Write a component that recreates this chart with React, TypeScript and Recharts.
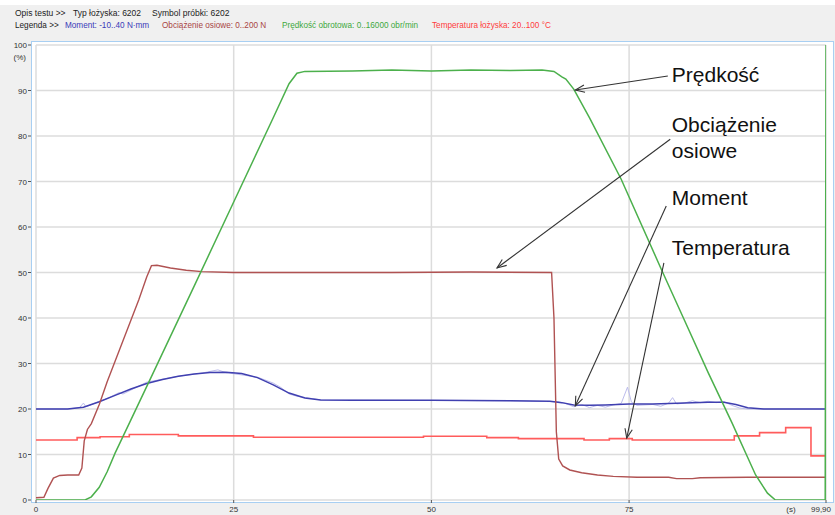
import {
  LineChart,
  Line,
  XAxis,
  YAxis,
  CartesianGrid,
  ReferenceLine,
  ReferenceDot,
} from "recharts";

// czas (s), wartość (%)
const predkosc: [number, number][] = [
  [0, 0], [6.2, 0], [7, 0.7], [8, 2.8], [9, 6.2], [10, 10.3], [12, 17.6], [15, 28.6],
  [20, 47], [25, 65.5], [30, 84], [32, 91.5], [33, 93.8], [34, 94.2], [40, 94.3],
  [45, 94.5], [50, 94.3], [55, 94.5], [60, 94.4], [64, 94.5], [65.5, 94.2], [66.5, 93],
  [67, 92.5], [68, 90.3], [70, 84], [74, 70.5], [79, 51], [82, 39.5], [85, 28], [88, 17],
  [91, 5.5], [92.5, 1.5], [93.5, 0], [99.8, 0], [99.9, 100],
];

const obciazenie: [number, number][] = [
  [0, 0.5], [1, 0.6], [1.5, 2.5], [2.2, 4.8], [3, 5.4], [4, 5.5], [5.4, 5.5], [5.8, 7],
  [6.1, 13], [6.5, 15.5], [7, 16.8], [8, 21], [9, 26], [10, 30.5], [11, 35], [12, 39.5],
  [13, 44], [14, 49], [14.6, 51.5], [15.3, 51.6], [17, 51], [19, 50.5], [21, 50.2],
  [25, 50], [35, 50], [45, 50], [55, 50.1], [65.2, 50], [65.5, 40], [65.8, 15], [66.1, 9],
  [66.6, 7.5], [67.5, 6.6], [69, 6], [71, 5.5], [73, 5.2], [76, 5], [80, 5], [81, 4.7],
  [83, 4.7], [84, 4.9], [90, 5], [99.9, 5],
];

const moment: [number, number][] = [
  [0, 20], [4, 20], [6, 20.4], [8, 21.6], [10, 23], [12, 24.4], [14, 25.6], [16, 26.5],
  [18, 27.2], [20, 27.7], [22, 28], [24, 28.1], [26, 27.8], [28, 26.9], [30, 25.3],
  [32, 23.5], [34, 22.4], [36, 22], [40, 21.9], [50, 21.9], [60, 21.8], [65, 21.7],
  [66.5, 21.4], [68, 20.9], [70, 20.8], [72, 20.9], [75, 21.1], [78, 21.1], [82, 21.3],
  [85, 21.5], [87, 21.5], [88.5, 21], [90, 20.3], [92, 20], [99.9, 20],
];

const momentSurowy: [number, number][] = [
  [0, 20], [4, 20], [5.5, 20.3], [6, 21.3], [6.3, 20.5], [9, 22.3], [10.5, 23.6],
  [11, 23.3], [14, 25.9], [18, 27.2], [21, 27.9], [23, 28.6], [24, 28], [28, 27],
  [30, 25.7], [31, 24.7], [32, 23.3], [33, 22.8], [36, 22], [60, 21.8], [66, 21.6],
  [67, 21.2], [68, 20.5], [69, 21], [70, 20.3], [71, 20.8], [72, 20.4], [73, 20.9],
  [74, 21.2], [74.8, 24.8], [75.3, 21.5], [76, 20.8], [78, 21], [79, 20.6], [80, 21.3],
  [80.5, 22.5], [81, 21.1], [82, 21.3], [83, 21.8], [84, 21.4], [85, 21.7], [86, 21.4],
  [87, 21.6], [88, 20.8], [89, 20.2], [90, 20], [99.9, 20],
];

const temperatura: [number, number][] = [
  [0, 13.2], [5.2, 13.7], [8.1, 13.9], [11.8, 14.4], [18, 14.1], [27.5, 13.8], [49, 14],
  [57, 13.7], [61, 13.5], [69.3, 13.2], [72.5, 13.5], [75.4, 13.2], [88.3, 14.1],
  [91.5, 14.8], [94.8, 15.9], [98, 9.7], [99.9, 9.7],
];

const yTicks = [0, 10, 20, 30, 40, 50, 60, 70, 80, 90, 100];
const xTicks = [0, 25, 50, 75, 99.9];

const legenda = [
  { tekst: "Moment: -10..40 N·mm", kolor: "#3a3ab8", x: 65 },
  { tekst: "Obciążenie osiowe: 0..200 N", kolor: "#a84444", x: 162 },
  { tekst: "Prędkość obrotowa: 0..16000 obr/min", kolor: "#3da83d", x: 282 },
  { tekst: "Temperatura łożyska: 20..100 °C", kolor: "#ff3c3c", x: 432 },
];

const opisy = [
  { tekst: "Prędkość", t: 80.4, v: 93.6 },
  { tekst: "Obciążenie", t: 80.4, v: 82.6 },
  { tekst: "osiowe", t: 80.4, v: 76.9 },
  { tekst: "Moment", t: 80.4, v: 66.4 },
  { tekst: "Temperatura", t: 80.4, v: 55.4 },
];

const strzalki = [
  [{ x: 79.9, y: 93.2 }, { x: 68.2, y: 90.1 }],
  [{ x: 80.2, y: 79.3 }, { x: 58.3, y: 51.0 }],
  [{ x: 79.7, y: 64.6 }, { x: 68.2, y: 20.7 }],
  [{ x: 79.4, y: 52.1 }, { x: 74.7, y: 13.6 }],
];

const toRows = (pts: [number, number][]) => pts.map(([t, v]) => ({ t, v }));

function Arrow(p: any) {
  const { x1, y1, x2, y2 } = p;
  const ang = Math.atan2(y2 - y1, x2 - x1);
  const L = 10;
  const a = 0.38;
  const h1 = `${x2 - L * Math.cos(ang - a)},${y2 - L * Math.sin(ang - a)}`;
  const h2 = `${x2 - L * Math.cos(ang + a)},${y2 - L * Math.sin(ang + a)}`;
  return (
    <g>
      <line x1={x1} y1={y1} x2={x2} y2={y2} stroke="#333" strokeWidth={1.1} />
      <polyline points={`${h1} ${x2},${y2} ${h2}`} fill="none" stroke="#333" strokeWidth={1.1} />
    </g>
  );
}

function YTick({ x, y, payload }: any) {
  return (
    <g>
      <text x={x} y={y} dy={3} textAnchor="end" fontSize={8} fill="#333">
        {payload.value}
      </text>
      <line x1={x + 1} x2={x + 4} y1={y} y2={y} stroke="#555" />
      {payload.value === 100 && (
        <text x={x - 1} y={y + 15} textAnchor="end" fontSize={8} fill="#333">
          (%)
        </text>
      )}
    </g>
  );
}

function XTick({ x, y, payload }: any) {
  const last = payload.value > 99;
  return (
    <g>
      <text x={x} y={y} dy={7} textAnchor="middle" fontSize={8} fill="#333">
        {last ? "99,90" : payload.value}
      </text>
      {last && (
        <text x={x - 30} y={y} dy={7} textAnchor="middle" fontSize={8} fill="#333">
          (s)
        </text>
      )}
    </g>
  );
}

export default function App() {
  return (
    <div
      style={{
        position: "absolute",
        left: 0,
        top: 0,
        width: 835,
        height: 515,
        background: "#f0f0f0",
        fontFamily: "'Liberation Sans', Arial, sans-serif",
        overflow: "hidden",
      }}
    >
      <div style={{ position: "absolute", left: 0, top: 0, width: 835, height: 5, background: "#fff" }} />
      <div style={{ position: "absolute", top: 8, left: 15, fontSize: 8.5, lineHeight: "11px", color: "#222", whiteSpace: "nowrap" }}>
        Opis testu &gt;&gt;
      </div>
      <div style={{ position: "absolute", top: 8, left: 73, fontSize: 8.5, lineHeight: "11px", color: "#222", whiteSpace: "nowrap" }}>
        Typ łożyska: 6202
      </div>
      <div style={{ position: "absolute", top: 8, left: 152, fontSize: 8.5, lineHeight: "11px", color: "#222", whiteSpace: "nowrap" }}>
        Symbol próbki: 6202
      </div>
      <div style={{ position: "absolute", top: 20, left: 15, fontSize: 8.2, lineHeight: "11px", color: "#222", whiteSpace: "nowrap" }}>
        Legenda &gt;&gt;
      </div>
      {legenda.map((l) => (
        <div
          key={l.tekst}
          style={{ position: "absolute", top: 20, left: l.x, fontSize: 8.2, lineHeight: "11px", color: l.kolor, whiteSpace: "nowrap" }}
        >
          {l.tekst}
        </div>
      ))}
      <div
        style={{
          position: "absolute",
          left: 31,
          top: 41,
          width: 801,
          height: 460,
          background: "#fff",
          border: "1px solid #a8cff2",
        }}
      />
      <div style={{ position: "absolute", left: 0, top: 0 }}>
        <LineChart width={835} height={515} margin={{ top: 45, right: 9, bottom: 0, left: 0 }}>
          <CartesianGrid stroke="#dcdcdc" strokeWidth={1.5} />
          <XAxis
            type="number"
            dataKey="t"
            domain={[0, 99.9]}
            ticks={xTicks}
            height={15}
            axisLine={false}
            tickSize={3}
            tickMargin={2}
            tickLine={{ stroke: "#555" }}
            tick={<XTick />}
            allowDataOverflow
          />
          <YAxis
            type="number"
            dataKey="v"
            domain={[0, 100]}
            ticks={yTicks}
            width={36}
            axisLine={false}
            tickLine={false}
            tickSize={0}
            tickMargin={9}
            tick={<YTick />}
            allowDataOverflow
          />
          <Line data={toRows(momentSurowy)} dataKey="v" type="linear" stroke="#bcbcec" strokeWidth={1} dot={false} isAnimationActive={false} />
          <Line data={toRows(moment)} dataKey="v" type="linear" stroke="#4040b0" strokeWidth={1.5} dot={false} isAnimationActive={false} />
          <Line data={toRows(temperatura)} dataKey="v" type="stepAfter" stroke="#ff5c5c" strokeWidth={1.6} dot={false} isAnimationActive={false} />
          <Line data={toRows(obciazenie)} dataKey="v" type="linear" stroke="#b05252" strokeWidth={1.4} dot={false} isAnimationActive={false} />
          <Line data={toRows(predkosc)} dataKey="v" type="linear" stroke="#4cb04c" strokeWidth={1.5} dot={false} isAnimationActive={false} />
          {strzalki.map((s, i) => (
            <ReferenceLine key={i} segment={s} shape={(p: any) => <Arrow {...p} />} />
          ))}
          {opisy.map((o) => (
            <ReferenceDot
              key={o.tekst}
              x={o.t}
              y={o.v}
              r={0}
              fill="none"
              stroke="none"
              label={{ value: o.tekst, position: "right", offset: 0, fontSize: 21, fill: "#111" }}
            />
          ))}
        </LineChart>
      </div>
    </div>
  );
}
